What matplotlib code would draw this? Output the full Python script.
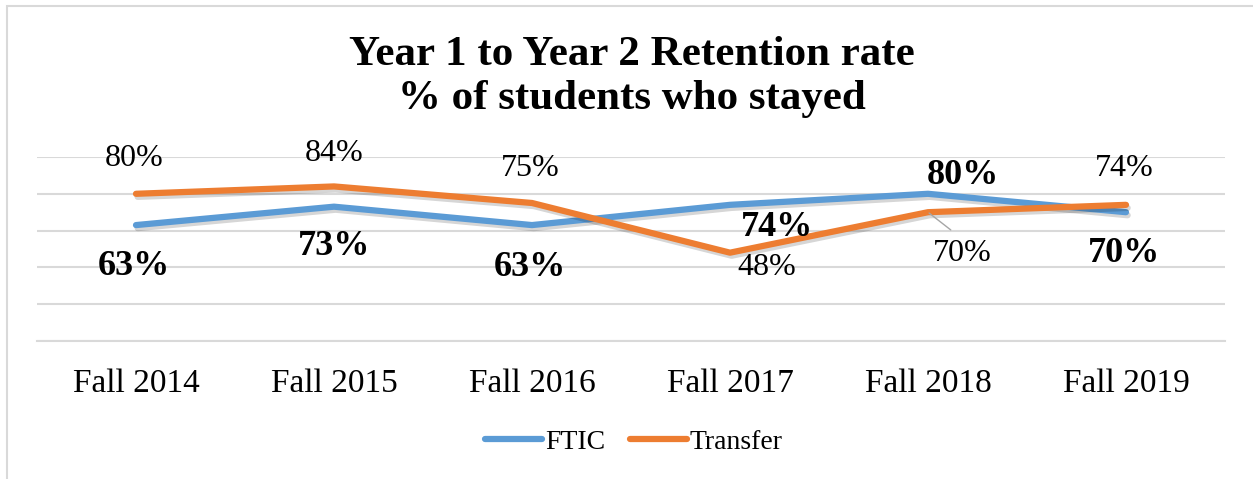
import matplotlib
matplotlib.use("Agg")
import matplotlib.pyplot as plt
import matplotlib.patheffects as pe
from matplotlib.patches import Rectangle
from matplotlib.lines import Line2D

plt.rcParams['font.family'] = ['Liberation Serif', 'DejaVu Serif']

# data
terms = ['Fall 2014', 'Fall 2015', 'Fall 2016', 'Fall 2017', 'Fall 2018', 'Fall 2019']
ftic = [63, 73, 63, 74, 80, 70]
transfer = [80, 84, 75, 48, 70, 74]

blue = '#5B9BD5'
orange = '#ED7D31'
grid_col = '#d9d9d9'

# label offsets in pixels (dx, dy)
ftic_off = [(-2, -41), (0, -40), (-2, -42), (47, -23), (35, 18), (-2, -41)]
transfer_off = [(-2, 35), (0, 33), (-2, 35), (37, -15), (34, -41), (-2, 36)]

fig = plt.figure(figsize=(12.53, 4.79), dpi=100)
ax = fig.add_axes([37 / 1253, 1 - 341 / 479, (1225 - 37) / 1253, (341 - 157) / 479])

# chart frame (left and top edges visible)
fig.patches.append(Rectangle((7 / 1253, -0.1), 1.2, 1 - 6 / 479 + 0.1,
                             transform=fig.transFigure, fill=False,
                             edgecolor=grid_col, lw=1.5, zorder=0))

x = list(range(len(terms)))
shadow = [pe.SimpleLineShadow(offset=(1.2, -2.2), shadow_color='black', alpha=0.16),
          pe.Normal()]
ax.plot(x, ftic, color=blue, lw=4.5, solid_capstyle='round', solid_joinstyle='round',
        path_effects=shadow, zorder=3)
ax.plot(x, transfer, color=orange, lw=4.5, solid_capstyle='round', solid_joinstyle='round',
        path_effects=shadow, zorder=3)

for i, v in enumerate(ftic):
    ax.annotate(f'{v}%', (i, v), xytext=ftic_off[i], textcoords='offset pixels',
                ha='center', va='center', fontsize=26, fontweight='bold', zorder=5)
for i, v in enumerate(transfer):
    kw = {}
    if i == 4:
        kw['arrowprops'] = dict(arrowstyle='-', color='#a6a6a6', lw=1,
                                shrinkA=7, shrinkB=1, relpos=(0.5, 1))
    ax.annotate(f'{v}%', (i, v), xytext=transfer_off[i], textcoords='offset pixels',
                ha='center', va='center', fontsize=23, zorder=5, **kw)

ax.set_xlim(-0.5, len(terms) - 0.5)
ax.set_ylim(0, 100)
ax.set_yticks(range(0, 101, 20))
ax.set_yticklabels([])
ax.tick_params(axis='y', length=0)
ax.set_xticks(x)
ax.set_xticklabels(terms, fontsize=24)
ax.tick_params(axis='x', length=0, pad=20)
ax.grid(axis='y', color=grid_col, lw=1.5)
ax.set_axisbelow(True)
for s in ['top', 'right', 'left']:
    ax.spines[s].set_visible(False)
ax.spines['bottom'].set_color(grid_col)
ax.spines['bottom'].set_linewidth(1.5)

fig.text(0.504, 1 - 77 / 479, 'Year 1 to Year 2 Retention rate\n% of students who stayed',
         ha='center', va='center', fontsize=31, fontweight='bold', linespacing=1.2)

handles = [Line2D([], [], color=blue, lw=4.5, solid_capstyle='round'),
           Line2D([], [], color=orange, lw=4.5, solid_capstyle='round')]
fig.legend(handles, ['FTIC', 'Transfer'], loc='center',
           bbox_to_anchor=(0.506, 1 - 442 / 479), ncol=2, frameon=False,
           fontsize=20, handlelength=2.05, handletextpad=0.1, columnspacing=0.9)

fig.savefig('out.png', dpi=100)
